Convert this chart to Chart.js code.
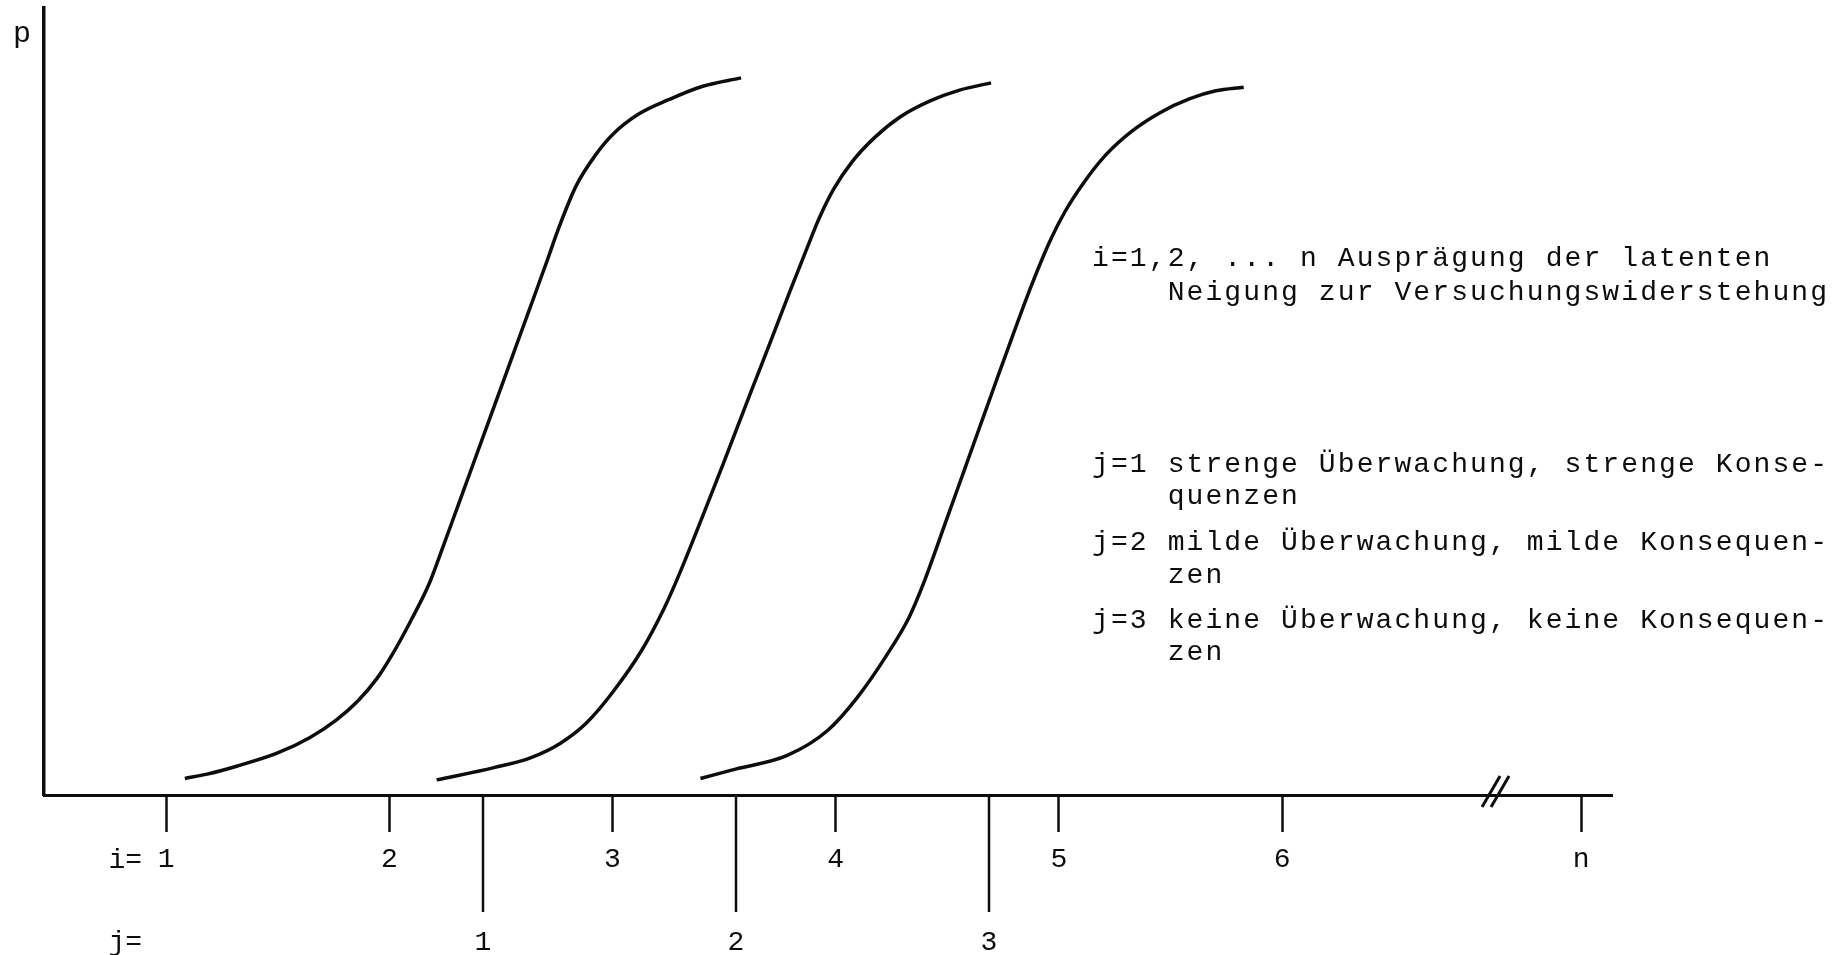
<!DOCTYPE html>
<html>
<head>
<meta charset="utf-8">
<script src="https://cdn.jsdelivr.net/npm/chart.js@4.4.1/dist/chart.umd.min.js"></script>
<style>
  html, body { margin: 0; padding: 0; background: #fff; overflow: hidden; }
  #wrap { position: relative; width: 1834px; height: 955px; }
</style>
</head>
<body>
<div id="wrap"><canvas id="chart" width="1834" height="955"></canvas></div>
<script>
// i = latent disposition (x axis), "n" sits after the axis break
const iTicks = [1, 2, 3, 4, 5, 6, 7.34];
const iLabels = ["1", "2", "3", "4", "5", "6", "n"];
// j = surveillance level, placed on the same i scale
const jTicks = [2.42, 3.554, 4.687];
const jLabels = ["1", "2", "3"];
const axisBreak = 6.954;

// j=1 strenge Überwachung
const strictX = [1.084, 1.184, 1.316, 1.497, 1.645, 1.762, 1.860, 1.945, 2.013, 2.093, 2.178, 2.241, 2.308, 2.375,
  2.456, 2.523, 2.591, 2.658, 2.707, 2.756, 2.837, 2.922, 3.003, 3.119, 3.254, 3.401, 3.576];
const strictP = [0.023, 0.029, 0.040, 0.058, 0.080, 0.104, 0.131, 0.162, 0.195, 0.240, 0.293, 0.345, 0.402, 0.459,
  0.528, 0.585, 0.643, 0.700, 0.742, 0.785, 0.846, 0.888, 0.918, 0.946, 0.966, 0.984, 0.996];

// j=2 milde Überwachung
const mildX = [2.212, 2.469, 2.635, 2.767, 2.883, 2.999, 3.131, 3.231, 3.297, 3.396, 3.496, 3.562, 3.628, 3.711,
  3.793, 3.876, 3.926, 3.992, 4.075, 4.174, 4.290, 4.423, 4.555, 4.696];
const mildP = [0.021, 0.038, 0.052, 0.072, 0.100, 0.142, 0.201, 0.259, 0.305, 0.381, 0.460, 0.513, 0.566, 0.632,
  0.698, 0.763, 0.801, 0.842, 0.880, 0.913, 0.942, 0.964, 0.979, 0.989];

// j=3 keine Überwachung
const noneX = [3.394, 3.551, 3.783, 3.965, 4.098, 4.230, 4.329, 4.396, 4.495, 4.577, 4.644, 4.710, 4.793, 4.875,
  4.958, 5.025, 5.108, 5.207, 5.323, 5.455, 5.587, 5.703, 5.828];
const noneP = [0.023, 0.036, 0.055, 0.090, 0.136, 0.195, 0.247, 0.296, 0.381, 0.452, 0.510, 0.567, 0.638, 0.706,
  0.768, 0.809, 0.849, 0.888, 0.921, 0.948, 0.967, 0.978, 0.983];

// explanation text, [text, indent in characters]
const noteLines = [
  ["i=1,2, ... n Ausprägung der latenten", 0],
  ["Neigung zur Versuchungswiderstehung", 4],
  ["j=1 strenge Überwachung, strenge Konse-", 0],
  ["quenzen", 4],
  ["j=2 milde Überwachung, milde Konsequen-", 0],
  ["zen", 4],
  ["j=3 keine Überwachung, keine Konsequen-", 0],
  ["zen", 4],
];
const noteY = [259, 293, 465, 497, 543, 576, 621, 653];

const INK = "#0d0d0d";
const MONO = '"Liberation Mono", "DejaVu Sans Mono", monospace';

function curve(xs, ps) {
  return {
    data: xs.map((x, k) => ({ x: x, y: ps[k] })),
    showLine: true,
    borderColor: INK,
    borderWidth: 3.5,
    pointRadius: 0,
    cubicInterpolationMode: "monotone",
    clip: false,
  };
}

const decor = {
  id: "decor",
  afterDraw(chart) {
    const { ctx, chartArea, scales } = chart;
    const x = scales.x;
    const base = chartArea.bottom;
    ctx.save();
    ctx.strokeStyle = INK;
    ctx.fillStyle = INK;

    // long j ticks below the axis
    ctx.lineWidth = 2.5;
    ctx.font = "28px " + MONO;
    ctx.textAlign = "center";
    ctx.textBaseline = "middle";
    jTicks.forEach((v, k) => {
      const px = Math.round(x.getPixelForValue(v));
      ctx.beginPath();
      ctx.moveTo(px, base);
      ctx.lineTo(px, base + 117);
      ctx.stroke();
      ctx.fillText(jLabels[k], px, base + 148);
    });

    // row captions
    ctx.textAlign = "right";
    const first = x.getPixelForValue(iTicks[0]);
    ctx.fillText("i=", first - 24, base + 66);
    ctx.fillText("j=", first - 24, base + 148);

    // axis break //
    const bx = x.getPixelForValue(axisBreak);
    ctx.lineWidth = 3;
    [-9, 0].forEach((d) => {
      ctx.beginPath();
      ctx.moveTo(bx + d - 4, base + 12);
      ctx.lineTo(bx + d + 14, base - 19);
      ctx.stroke();
    });

    // y axis name
    ctx.textAlign = "center";
    ctx.textBaseline = "alphabetic";
    ctx.font = "30px " + MONO;
    ctx.fillText("p", 22, 42);

    // explanation block, typewriter spacing
    ctx.font = "28px " + MONO;
    ctx.textBaseline = "middle";
    const left = 1091, adv = 18.9;
    noteLines.forEach(([text, indent], r) => {
      Array.from(text).forEach((ch, k) => {
        ctx.fillText(ch, left + (indent + k) * adv + adv / 2, noteY[r]);
      });
    });
    ctx.restore();
  },
};

new Chart(document.getElementById("chart").getContext("2d"), {
  type: "scatter",
  data: {
    datasets: [curve(strictX, strictP), curve(mildX, mildP), curve(noneX, noneP)],
  },
  options: {
    responsive: false,
    animation: false,
    devicePixelRatio: 1,
    layout: { padding: { left: 0, top: 8, right: 222, bottom: 0 } },
    plugins: { legend: { display: false }, tooltip: { enabled: false } },
    scales: {
      x: {
        type: "linear",
        min: 0.453,
        max: 7.478,
        afterBuildTicks: (s) => {
          s.ticks = iTicks.map((v) => ({ value: v }));
        },
        afterFit: (s) => {
          s.height = 160;
        },
        grid: {
          drawOnChartArea: false,
          drawTicks: true,
          tickLength: 37,
          tickWidth: 2.5,
          tickColor: INK,
        },
        border: { color: INK, width: 3 },
        ticks: {
          autoSkip: false,
          maxRotation: 0,
          padding: 11,
          color: INK,
          font: { family: MONO, size: 28 },
          callback: (v, idx) => iLabels[idx],
        },
      },
      y: {
        min: 0,
        max: 1.093,
        afterFit: (s) => {
          s.width = 44;
        },
        grid: { display: false },
        border: { color: INK, width: 3.5 },
        ticks: { display: false },
      },
    },
  },
  plugins: [decor],
});
</script>
</body>
</html>
